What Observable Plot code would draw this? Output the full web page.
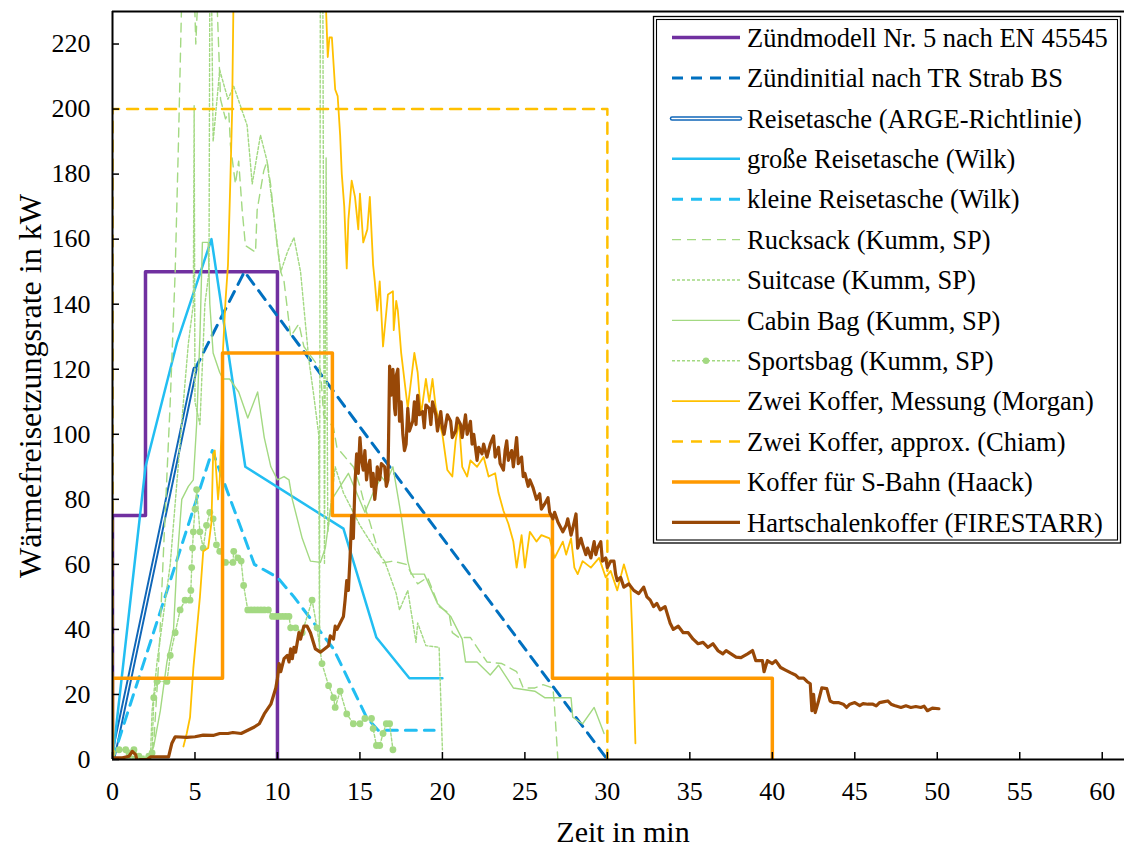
<!DOCTYPE html>
<html>
<head>
<meta charset="utf-8">
<script src="https://cdn.jsdelivr.net/npm/d3@7"></script>
<script src="https://cdn.jsdelivr.net/npm/@observablehq/plot@0.6"></script>
<style>
  body { margin: 0; background: #fff; }
  #chart { width: 1124px; height: 848px; }
</style>
</head>
<body>
<div id="chart"></div>
<script>
// Heat release rate curves of luggage fires, [time in min, HRR in kW]
const xTicks = [0, 5, 10, 15, 20, 25, 30, 35, 40, 45, 50, 55, 60];
const yTicks = [0, 20, 40, 60, 80, 100, 120, 140, 160, 180, 200, 220];

const zuendmodell = [[0,0],[0,75],[2,75],[2,150],[10,150],[10,0]];
const zuendinitial = [[0,0],[5,120],[8,150],[30,0]];
const argeReisetasche = [[0,0],[5,120]];
const grosseReisetasche = [[0,0],[2,90],[3.9,128],[6,160],[8.05,90],[14,71],[16,37.5],[18,25],[20,25]];
const kleineReisetasche = [[0,0],[6.05,95],[8.6,60],[10,56],[11,50],[13.4,34],[15.4,13],[16.1,9],[19.5,9]];

const rucksack = [[0,0],[1.2,1],[2.3,0.5],[2.5,5],[2.8,30],[3.1,65],[3.5,110],[3.8,150],[4.0,190],[4.2,235],
  [4.95,238],[5.05,220],[5.2,238],[6.3,238],[6.55,203],[6.85,197],[7.05,199],[7.15,189],[7.45,177],[7.65,184],
  [7.86,169],[8.06,158],[8.67,156],[8.77,169],[9.17,181],[9.37,184],[9.58,177],[9.98,158],[10.2,150],[10.4,147],
  [10.8,130],[11.3,134],[11.6,127],[12.6,120],[12.8,106],[13.4,102],[13.6,96],[14.6,90],[15.0,84],[15.4,76],
  [15.6,73],[16.0,66],[16.4,60.5],[17.0,61],[17.8,60],[18.5,54],[19.1,56],[19.8,47],[20.4,45],[20.6,39],
  [21.0,37.5],[21.7,37.5],[22.7,30],[23.6,29.5],[24.5,27],[24.9,22],[25.6,22],[26.1,23],[26.7,22],[26.8,16],[27.0,0]];

const suitcase = [[0,0],[1.5,0.5],[2.3,0.5],[2.4,15],[2.7,30],[3.1,45],[3.5,60],[3.9,85],[4.3,110],[4.6,128],
  [4.9,140],[4.95,201],[5.0,110],[5.3,103],[5.6,140],[5.85,150],[5.9,238],[6.0,238],[6.1,190],[6.5,212],
  [7.0,203],[7.35,207],[8.16,195],[8.47,177],[8.97,192],[9.37,184],[9.78,167],[10.2,150],[10.6,156],[11.0,160.5],
  [11.4,150],[11.9,123],[12.2,112],[12.5,100],[12.55,33],[12.6,238],[12.75,238],[12.85,60],[12.95,185],[13.05,70],
  [13.5,90],[14.0,82],[14.5,77],[15.0,72],[15.5,68],[16.0,64],[16.5,61],[17.2,51],[17.4,46],[17.9,52],
  [18.4,36],[18.5,42],[19.0,35],[19.8,34.5],[20.0,3]];

const cabinBag = [[0,0],[1.0,0.5],[2.2,0.5],[2.5,4],[2.9,15],[3.3,30],[3.7,40],[3.9,60],[4.2,80],[4.6,84],
  [4.9,86],[5.1,103],[5.3,130],[5.45,159],[5.8,159],[5.9,140],[6.1,125],[6.5,119],[6.7,117],[7.1,117],
  [7.65,113],[8.2,105],[8.8,113],[9.2,99],[9.6,90],[10.0,86],[10.4,87],[10.7,86],[10.9,80],[11.5,68],
  [12.0,61],[12.6,60.6],[12.9,65],[13.3,80],[13.8,84],[14.3,88],[14.8,82],[15.3,76],[15.8,82],[16.3,87],
  [16.6,85],[17.0,90],[17.5,75],[17.9,61],[18.1,57],[18.9,57],[19.7,48],[20.5,44],[21.2,37],[21.4,30],
  [22.1,30],[22.9,26],[23.4,29],[24.3,22],[25.6,21],[26.2,19],[27.8,19],[27.9,13],[28.5,11],[29.2,16],[29.8,8]];

const sportsbag = [[0,2],[0.4,3],[0.8,3],[1.0,2],[1.3,3],[1.6,1],[2.2,1],[2.4,2],[2.5,19],[2.7,24],[3.3,24],
  [3.5,32],[3.8,39],[4.1,46],[4.4,49],[4.7,49],[4.75,52],[4.8,59],[4.85,65],[4.9,70],[5.0,77],[5.1,83],
  [5.3,70],[5.5,65],[5.7,72],[5.9,76],[6.1,74],[6.3,66],[6.5,64],[6.85,60.6],[7.3,60.6],[7.35,64],[7.6,62],
  [7.8,61],[7.95,53.5],[8.2,46],[8.4,46],[8.6,46],[8.8,46],[9.0,46],[9.2,46],[9.45,46],[9.7,44],[9.9,44],
  [10.1,44],[10.3,44],[10.5,44],[10.7,44],[10.8,40.5],[11.1,40.5],[11.5,39],[12.1,49],[12.4,40.5],[12.7,29.5],
  [13.1,22.7],[13.4,19],[13.5,16],[13.8,21],[14.2,14],[14.6,11],[15.0,11],[15.3,12.6],[15.7,12.6],[15.8,9.5],
  [16.0,4.3],[16.2,4.3],[16.4,8],[16.6,11],[16.8,11],[17.0,3]];

const morgan = [[4.3,4],[4.5,8],[4.7,13],[4.9,28],[5.1,39],[5.3,50],[5.5,64],[5.8,65],[6.0,73],[6.1,94],
  [6.2,95],[6.4,80],[6.5,86],[6.6,100],[6.7,126],[6.85,141],[7.0,152],[7.15,179],[7.25,199],[7.35,240],
  [7.5,260],[12.7,260],[12.85,235],[12.95,230],[13.05,216],[13.15,222],[13.3,222],[13.5,206],[13.65,204],
  [13.8,192],[13.9,180],[14.05,170],[14.2,151],[14.3,166],[14.5,178],[14.7,173],[14.9,163],[15.0,174],
  [15.2,159],[15.45,163],[15.6,173],[15.8,152],[15.9,147],[16.05,138],[16.2,147],[16.4,127],[16.7,143],
  [17.0,144],[17.05,132],[17.2,141],[17.3,138],[17.5,125],[17.9,108],[18.3,125],[18.5,119],[18.7,106],
  [19.0,117],[19.2,110],[19.4,117],[19.6,108],[20.0,100],[20.3,89],[20.6,87],[20.8,98],[21.0,104],[21.2,90],
  [21.5,87],[21.7,92],[22.1,90],[22.5,93],[22.8,87],[23.2,88],[23.4,82],[23.7,76.5],[24.0,72.5],[24.3,67],
  [24.5,59],[24.8,69],[25.0,59],[25.3,70],[25.7,67],[26.0,69],[26.5,68],[26.8,62],[27.3,67],[27.5,63],
  [27.8,68],[28.0,59],[28.2,57],[28.5,61],[29.0,59],[29.5,62],[29.9,56],[30.2,58],[30.6,52],[31.0,60],
  [31.4,53],[31.5,40],[31.7,5]];

const chiam = [[0,0],[0,200],[30,200],[30,0]];
const haack = [[0,0],[0,25],[6.67,25],[6.67,125],[13.33,125],[13.33,75],[26.67,75],[26.67,25],[40,25],[40,0]];

const firestarr = [[0,0.5],[0.6,0.5],[1.0,1],[1.2,2.5],[1.4,1.5],[1.5,-0.5],[1.7,0],[2.1,0],[2.3,0.8],[3.4,0.8],
  [3.6,5],[3.8,7],[4.5,6.8],[5.0,7],[5.5,7.5],[6.1,7.4],[6.5,8],[7.0,8],[7.3,8.3],[7.8,8],[8.2,9],[8.6,10],
  [8.9,11],[9.2,14],[9.6,17],[9.9,22],[10.0,25],[10.1,29.5],[10.2,27],[10.4,31],[10.6,32],[10.7,30],[10.8,34],
  [10.9,31],[11.0,34.5],[11.1,33],[11.3,39],[11.4,37],[11.6,41],[11.8,41],[12.0,39],[12.3,34],[12.6,33],[13.1,35],
  [13.2,38],[13.4,37],[13.5,41],[13.6,40],[13.8,42],[14.0,44],[14.1,49],[14.2,55],[14.3,52],[14.4,62],[14.5,75],
  [14.6,68],[14.7,85],[14.8,94],[14.9,88],[15.0,99],[15.1,92],[15.2,89],[15.3,95],[15.4,86],[15.5,90],[15.6,92],
  [15.7,84],[15.8,88],[15.9,80],[16.0,85],[16.05,90],[16.2,86],[16.3,91],[16.5,90],[16.6,84],[16.7,86],[16.8,121],
  [16.9,112],[17.0,120],[17.1,108],[17.15,106],[17.2,118],[17.3,120],[17.4,104],[17.5,110],[17.6,100],[17.7,95],
  [17.8,97],[17.9,108],[18.0,101],[18.2,104],[18.3,110],[18.4,103],[18.5,112],[18.6,106],[18.8,107],[18.9,102],
  [19.0,109],[19.2,108],[19.3,103],[19.4,110],[19.6,106],[19.7,101],[19.9,107],[20.0,102],[20.1,100],[20.3,106],
  [20.5,104],[20.6,99],[20.8,101],[20.9,105],[21.1,103],[21.2,99],[21.4,106],[21.5,100],[21.7,104],[21.8,97],
  [21.9,100],[22.1,92],[22.2,96],[22.4,94],[22.5,97],[22.7,93],[22.9,97],[23.1,99.5],[23.2,93],[23.4,96],
  [23.5,91],[23.7,89],[23.8,95],[23.9,98],[24.0,92],[24.2,95],[24.3,90],[24.5,99],[24.6,91],[24.8,93],[24.9,87],
  [25.0,88],[25.2,84],[25.3,86],[25.5,83.5],[25.7,80],[25.9,81.7],[26.0,77],[26.2,78.6],[26.4,80.5],[26.5,76],
  [26.7,74],[26.8,76],[27.0,73],[27.2,71],[27.3,70],[27.5,72],[27.6,74],[27.8,69],[27.9,71],[28.1,75.5],[28.2,65],
  [28.4,68],[28.5,66],[28.7,63],[28.8,65],[29.0,62],[29.2,67],[29.3,63],[29.4,65],[29.6,67],[29.7,61],[29.9,62],
  [30.0,59],[30.2,61],[30.4,61],[30.5,57],[30.6,55],[30.8,56],[31.0,53],[31.3,54],[31.6,52],[31.9,51],[32.2,53],
  [32.4,50],[32.6,49],[32.8,47],[33.0,48],[33.2,46],[33.5,47],[33.8,42],[34.0,40],[34.3,41],[34.6,39],[34.9,39],
  [35.2,37],[35.5,35.6],[35.8,36],[36.1,34.5],[36.4,35.6],[36.7,33.5],[37.0,32.5],[37.2,33.5],[37.5,32.5],
  [37.8,31.5],[38.1,31.3],[38.5,32.5],[38.8,33.5],[39.0,30.4],[39.4,30.4],[39.5,27],[39.7,30.4],[40.0,29.5],
  [40.2,30.4],[40.5,28.3],[40.8,27.5],[41.1,26.7],[41.4,26],[41.6,25],[41.9,25],[42.1,24],[42.3,23.3],[42.4,15],
  [42.5,20],[42.6,14.4],[42.8,18],[43.0,22],[43.3,21.8],[43.5,18],[43.7,17.5],[44.0,17.5],[44.3,17],[44.5,16],
  [44.7,17],[45.0,17.5],[45.3,16.6],[45.5,17.2],[45.8,17],[46.1,17],[46.3,16.5],[46.5,17.5],[46.8,17.8],[47.0,18],
  [47.2,17],[47.4,16.6],[47.8,16],[48.1,16.5],[48.4,16],[48.7,16.3],[49.0,16],[49.2,16.4],[49.4,15],[49.7,15.8],[50.1,15.6]];

// Series styling (draw order = legend order)
const purple = "#7030A0", blue = "#0070C0", sky = "#22BEF2", green = "#A3D982",
      yellow = "#FFC000", orange = "#FF9900", brown = "#984807";

const series = [
  {name: "Zündmodell Nr. 5 nach EN 45545", data: zuendmodell, stroke: purple, width: 3.5},
  {name: "Zündinitial nach TR Strab BS", data: zuendinitial, stroke: blue, width: 3, dash: "11,8"},
  {name: "Reisetasche (ARGE-Richtlinie)", data: argeReisetasche, stroke: "#0F66B8", width: 5.2, double: true},
  {name: "große Reisetasche (Wilk)", data: grosseReisetasche, stroke: sky, width: 2.5},
  {name: "kleine Reisetasche (Wilk)", data: kleineReisetasche, stroke: sky, width: 3, dash: "11,8"},
  {name: "Rucksack (Kumm, SP)", data: rucksack, stroke: green, width: 1.4, dash: "9,6"},
  {name: "Suitcase (Kumm, SP)", data: suitcase, stroke: green, width: 1.4, dash: "3,2"},
  {name: "Cabin Bag (Kumm, SP)", data: cabinBag, stroke: green, width: 1.4},
  {name: "Sportsbag (Kumm, SP)", data: sportsbag, stroke: green, width: 1.4, dash: "3,2", dots: true},
  {name: "Zwei Koffer, Messung (Morgan)", data: morgan, stroke: yellow, width: 1.8},
  {name: "Zwei Koffer, approx. (Chiam)", data: chiam, stroke: yellow, width: 2.5, dash: "11,8"},
  {name: "Koffer für S-Bahn (Haack)", data: haack, stroke: orange, width: 3.5},
  {name: "Hartschalenkoffer (FIRESTARR)", data: firestarr, stroke: brown, width: 3.2}
];

const fx = d => d[0], fy = d => d[1];
const seriesMarks = series.flatMap(s => {
  const marks = [Plot.line(s.data, {x: fx, y: fy, stroke: s.stroke, strokeWidth: s.width,
    strokeDasharray: s.dash, strokeLinejoin: "round", clip: true})];
  if (s.double) marks.push(Plot.line(s.data, {x: fx, y: fy, stroke: "white", strokeWidth: 1.3, clip: true}));
  if (s.dots) marks.push(Plot.dot(s.data, {x: fx, y: fy, r: 3.4, fill: s.stroke, clip: true}));
  return marks;
});

const font = "'Liberation Serif', 'Times New Roman', serif";

const chart = Plot.plot({
  width: 1124,
  height: 848,
  marginLeft: 112,
  marginRight: 0,
  marginTop: 11,
  marginBottom: 89,
  style: {fontFamily: font, fontSize: "26px", color: "#000", background: "#fff", overflow: "visible"},
  x: {domain: [0, 61.35]},
  y: {domain: [0, 230]},
  marks: [
    ...seriesMarks,
    // frame: left, bottom and top edges
    Plot.ruleX([0], {stroke: "#000", strokeWidth: 2}),
    Plot.ruleY([0], {stroke: "#000", strokeWidth: 2}),
    Plot.ruleY([230], {stroke: "#000", strokeWidth: 2}),
    // inward tick marks
    Plot.ruleX(xTicks, {x: d => d, y1: 0, y2: 0, insetBottom: 7, stroke: "#000", strokeWidth: 1.5}),
    Plot.ruleY(yTicks, {y: d => d, x1: 0, x2: 0, insetRight: -7, stroke: "#000", strokeWidth: 1.5}),
    Plot.axisX(xTicks, {tickSize: 0, tickPadding: 22, label: null, fontSize: 26, fill: "#000"}),
    Plot.axisY(yTicks, {tickSize: 0, tickPadding: 22, label: null, fontSize: 26, fill: "#000"})
  ]
});

document.getElementById("chart").appendChild(chart);

// Axis titles and legend
const svg = d3.select(chart);
svg.append("text")
  .attr("x", 623).attr("y", 842)
  .attr("text-anchor", "middle")
  .attr("font-family", font).attr("font-size", 30).attr("fill", "#000")
  .text("Zeit in min");
svg.append("text")
  .attr("transform", "translate(41,386) rotate(-90)")
  .attr("text-anchor", "middle")
  .attr("font-family", font).attr("font-size", 32).attr("fill", "#000")
  .text("Wärmefreisetzungsrate in kW");

const legend = svg.append("g").attr("text-anchor", "start");
legend.append("rect").attr("x", 653.5).attr("y", 16.5).attr("width", 467).attr("height", 526.5)
  .attr("fill", "#fff").attr("stroke", "#000").attr("stroke-width", 1.3);
legend.append("rect").attr("x", 656.5).attr("y", 19.5).attr("width", 461).attr("height", 520.5)
  .attr("fill", "none").attr("stroke", "#000").attr("stroke-width", 1.1);

series.forEach((s, i) => {
  const cy = 37.6 + i * 40.4;
  const row = legend.append("g");
  row.append("line").attr("x1", 672).attr("x2", 740).attr("y1", cy).attr("y2", cy)
    .attr("stroke", s.stroke).attr("stroke-width", s.double ? 4.5 : s.width)
    .attr("stroke-dasharray", s.dash || null).attr("stroke-linecap", s.double ? "round" : "butt");
  if (s.double) row.append("line").attr("x1", 672).attr("x2", 740).attr("y1", cy).attr("y2", cy)
    .attr("stroke", "white").attr("stroke-width", 1.5).attr("stroke-linecap", "round");
  if (s.dots) row.append("circle").attr("cx", 706).attr("cy", cy).attr("r", 3.2).attr("fill", s.stroke);
  row.append("text").attr("x", 747).attr("y", cy).attr("dy", "0.35em")
    .attr("text-anchor", "start")
    .attr("font-family", font).attr("font-size", 26.5).attr("fill", "#000")
    .text(s.name);
});
</script>
</body>
</html>
